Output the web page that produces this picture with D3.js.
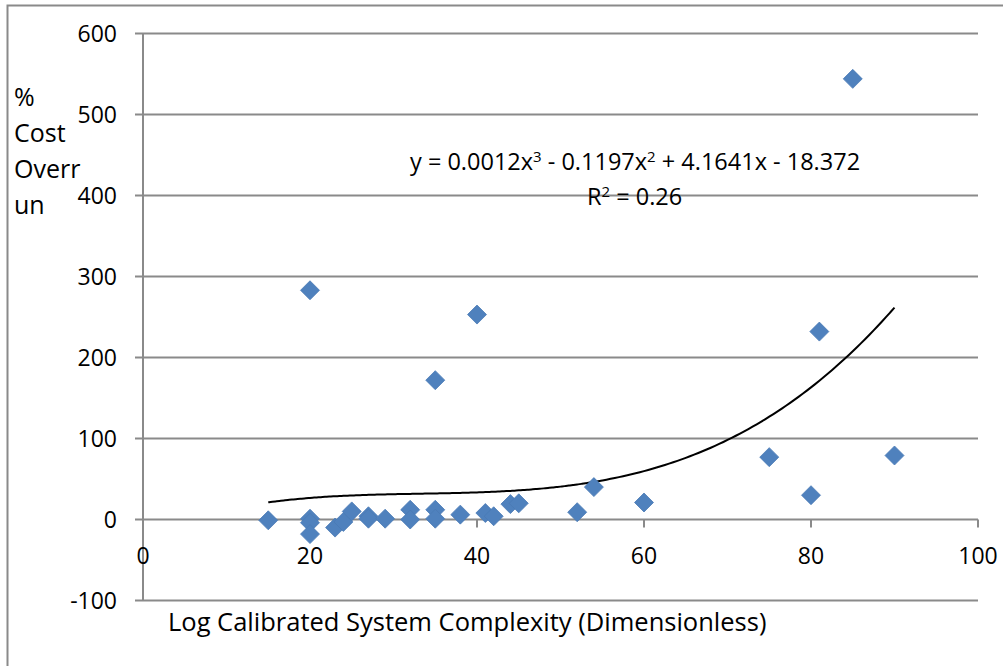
<!DOCTYPE html>
<html>
<head>
<meta charset="utf-8">
<script src="https://cdn.jsdelivr.net/npm/d3@7"></script>
<style>
  body { margin: 0; background: #fff; }
  text { font-family: "Open Sans", "Liberation Sans", sans-serif; fill: #000; }
</style>
</head>
<body>
<div id="chart"></div>
<script>
// complexity vs % cost overrun
const complexity = [15, 20, 20, 20, 20, 23, 24, 25, 27, 27, 29, 32, 32, 35, 35, 35, 38, 40, 41, 42, 44, 45, 52, 54, 60, 75, 80, 81, 85, 90];
const overrun = [-1, 1, -4, -18, 283, -10, -3, 10, 4, 1, 1, 12, 0, 12, 1, 172, 6, 253, 8, 4, 19, 20, 9, 40, 21, 77, 30, 232, 544, 79];
const xTicks = [0, 20, 40, 60, 80, 100];
const yTicks = [-100, 0, 100, 200, 300, 400, 500, 600];
// poly trendline coefficients (from label), order 3..0
const trendCoef = [0.0012, -0.1197, 4.1641, -18.372];
const trendRange = [15, 90];
const yTitleLines = ["%", "Cost", "Overr", "un"];

const width = 1003, height = 666;
const svg = d3.select('#chart').append('svg')
    .attr('width', width)
    .attr('height', height);

svg.append('rect').attr('width', width).attr('height', height).attr('fill', '#fff');

// outer chart border (only left + top show)
svg.append('path')
    .attr('d', 'M7.5,666 V5.5 H1003')
    .attr('fill', 'none')
    .attr('stroke', '#8a8a8a')
    .attr('stroke-width', 2);

const x = d3.scaleLinear().domain([0, 100]).range([143, 978]);
const y = d3.scaleLinear().domain([-100, 600]).range([600.5, 33.5]);

const gridColor = '#8a8a8a';

// horizontal gridlines
svg.append('g')
    .selectAll('line')
    .data(yTicks)
    .join('line')
    .attr('x1', 135)
    .attr('x2', x(100))
    .attr('y1', d => y(d))
    .attr('y2', d => y(d))
    .attr('stroke', gridColor)
    .attr('stroke-width', 2);

// vertical axis
svg.append('line')
    .attr('x1', x(0)).attr('x2', x(0))
    .attr('y1', y(600)).attr('y2', y(-100))
    .attr('stroke', gridColor)
    .attr('stroke-width', 2);

// x ticks on zero line
svg.append('g')
    .selectAll('line')
    .data(xTicks)
    .join('line')
    .attr('x1', d => x(d)).attr('x2', d => x(d))
    .attr('y1', y(0)).attr('y2', y(0) + 8)
    .attr('stroke', gridColor)
    .attr('stroke-width', 2);

const tickFs = 23;

svg.append('g')
    .selectAll('text')
    .data(yTicks)
    .join('text')
    .attr('x', 117)
    .attr('y', d => y(d))
    .attr('dy', '0.36em')
    .attr('text-anchor', 'end')
    .attr('font-size', tickFs)
    .text(d => d);

svg.append('g')
    .selectAll('text')
    .data(xTicks)
    .join('text')
    .attr('x', d => x(d))
    .attr('y', 564)
    .attr('text-anchor', 'middle')
    .attr('font-size', tickFs)
    .text(d => d);

// axis titles
svg.append('text')
    .attr('x', 168)
    .attr('y', 631)
    .attr('font-size', 25.5)
    .text('Log Calibrated System Complexity (Dimensionless)');

svg.append('g')
    .selectAll('text')
    .data(yTitleLines)
    .join('text')
    .attr('x', 14)
    .attr('y', (d, i) => 106 + i * 36)
    .attr('font-size', 25)
    .text(d => d);

// trendline
const poly = v => trendCoef[0] * v ** 3 + trendCoef[1] * v ** 2 + trendCoef[2] * v + trendCoef[3];
const trendPts = d3.range(trendRange[0], trendRange[1] + 0.01, 0.5).map(v => [v, poly(v)]);
svg.append('path')
    .datum(trendPts)
    .attr('fill', 'none')
    .attr('stroke', '#000')
    .attr('stroke-width', 2)
    .attr('d', d3.line().x(d => x(d[0])).y(d => y(d[1])).curve(d3.curveBasis));

// points
const r = 9.5;
svg.append('g')
    .selectAll('path')
    .data(complexity.map((c, i) => [c, overrun[i]]))
    .join('path')
    .attr('transform', d => `translate(${x(d[0])},${y(d[1])})`)
    .attr('d', `M0,${-r}L${r},0L0,${r}L${-r},0Z`)
    .attr('fill', '#4f81bd')
    .attr('stroke', '#4a7ab5')
    .attr('stroke-width', 0.8);

// equation label
const eqFs = 23.5;
const eq = svg.append('text')
    .attr('x', 410)
    .attr('y', 170)
    .attr('font-size', eqFs);
const parts = [['y = 0.0012x', false], ['3', true], [' - 0.1197x', false], ['2', true], [' + 4.1641x - 18.372', false]];
parts.forEach(([t, sup]) => {
    eq.append('tspan')
        .attr('font-size', sup ? 15 : eqFs)
        .attr('baseline-shift', sup ? '55%' : null)
        .text(t);
});

const r2 = svg.append('text')
    .attr('x', 587)
    .attr('y', 205)
    .attr('font-size', eqFs);
r2.append('tspan').text('R');
r2.append('tspan').attr('font-size', 15).attr('baseline-shift', '55%').text('2');
r2.append('tspan').text(' = 0.26');
</script>
</body>
</html>
